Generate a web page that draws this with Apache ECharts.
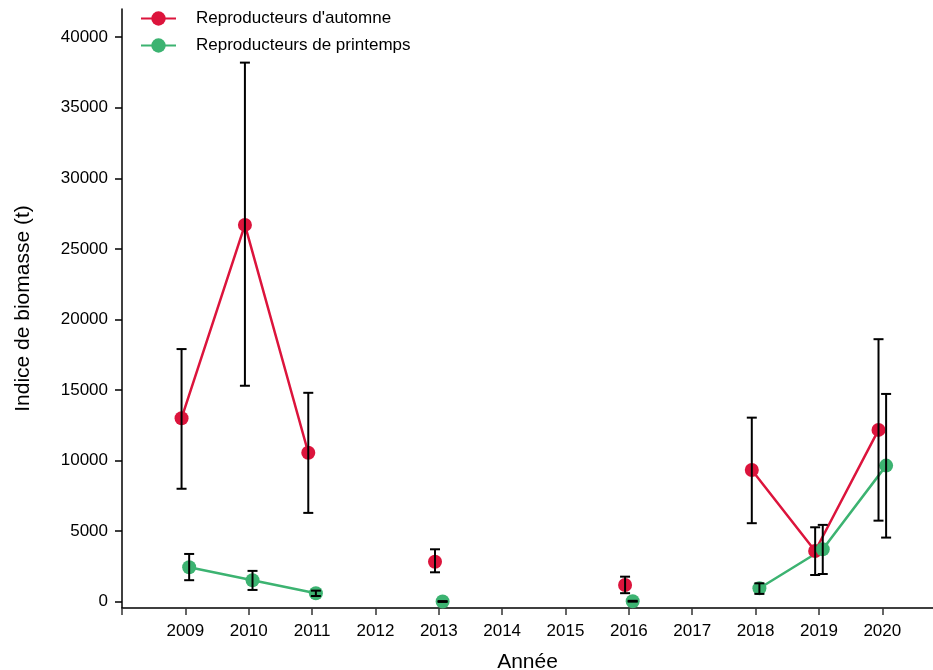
<!DOCTYPE html>
<html>
<head>
<meta charset="utf-8">
<script src="https://cdn.jsdelivr.net/npm/echarts@6/dist/echarts.min.js"></script>
<style>
  html, body { margin: 0; padding: 0; background: #ffffff; }
  #chart { width: 933px; height: 670px; }
</style>
</head>
<body>
<div id="chart"></div>
<script>
// Survey years and biomass index (t) with interval bounds; null = no survey
const years = [2009, 2010, 2011, 2012, 2013, 2014, 2015, 2016, 2017, 2018, 2019, 2020];

const autumnValues = [13000, 26700, 10550, null, 2830, null, null, 1180, null, 9330, 3590, 12170];
const autumnLow    = [8000, 15300, 6290, null, 2080, null, null, 600, null, 5560, 1890, 5740];
const autumnHigh   = [17900, 38200, 14800, null, 3710, null, null, 1770, null, 13040, 5270, 18600];

const springValues = [2440, 1520, 600, null, 10, null, null, 30, null, 950, 3710, 9640];
const springLow    = [1520, 830, 400, null, -20, null, null, 0, null, 550, 1960, 4540];
const springHigh   = [3380, 2180, 780, null, 40, null, null, 60, null, 1300, 5440, 14720];

const yTicks = [0, 5000, 10000, 15000, 20000, 25000, 30000, 35000, 40000];
const xTicks = [2008, 2009, 2010, 2011, 2012, 2013, 2014, 2015, 2016, 2017, 2018, 2019, 2020];
const xLabels = [2009, 2010, 2011, 2012, 2013, 2014, 2015, 2016, 2017, 2018, 2019, 2020];

const seriesNames = ["Reproducteurs d'automne", "Reproducteurs de printemps"];
const red = '#DC143C';
const green = '#3CB371';
const offset = 0.06; // horizontal dodge between the two groups

function linePoints(vals, shift) {
  return years.map((y, i) => [y + shift, vals[i] == null ? '-' : vals[i]]);
}
function barPoints(lo, hi, shift) {
  const out = [];
  years.forEach((y, i) => {
    if (lo[i] != null) out.push([y + shift, lo[i], hi[i]]);
  });
  return out;
}

function renderErrorBar(params, api) {
  const x = api.value(0);
  const lo = api.coord([x, api.value(1)]);
  const hi = api.coord([x, api.value(2)]);
  const half = 5;
  const style = { stroke: '#000', lineWidth: 2 };
  return {
    type: 'group',
    children: [
      { type: 'line', shape: { x1: hi[0], y1: hi[1], x2: lo[0], y2: lo[1] }, style },
      { type: 'line', shape: { x1: hi[0] - half, y1: hi[1], x2: hi[0] + half, y2: hi[1] }, style },
      { type: 'line', shape: { x1: lo[0] - half, y1: lo[1], x2: lo[0] + half, y2: lo[1] }, style }
    ]
  };
}

const font = 'Liberation Sans, Arial, sans-serif';
const plain = v => String(v);
const chart = echarts.init(document.getElementById('chart'));

chart.setOption({
  animation: false,
  backgroundColor: '#ffffff',
  textStyle: { fontFamily: font },
  grid: { left: 122, right: 0, top: 9, bottom: 62, containLabel: false, outerBoundsMode: 'none' },
  legend: {
    orient: 'vertical',
    left: 140,
    top: 10,
    padding: 0,
    itemWidth: 35,
    itemHeight: 18,
    itemGap: 10,
    data: seriesNames,
    textStyle: { fontFamily: font, fontSize: 17, color: '#000', padding: [0, 0, 0, 15] }
  },
  xAxis: {
    type: 'value',
    min: 2008,
    max: 2020.8,
    name: 'Année',
    nameLocation: 'middle',
    nameGap: 44,
    nameTextStyle: { fontFamily: font, fontSize: 21, color: '#000' },
    axisLine: { show: true, onZero: false, lineStyle: { color: '#000', width: 1.5 } },
    axisTick: { show: true, length: 7, customValues: xTicks, lineStyle: { color: '#333', width: 1.5 } },
    axisLabel: { customValues: xLabels, formatter: plain, margin: 15, fontSize: 17, color: '#000', fontFamily: font },
    splitLine: { show: false }
  },
  yAxis: {
    type: 'value',
    min: -450,
    max: 42000,
    name: 'Indice de biomasse (t)',
    nameLocation: 'middle',
    nameGap: 88,
    nameTextStyle: { fontFamily: font, fontSize: 21, color: '#000' },
    axisLine: { show: true, onZero: false, lineStyle: { color: '#000', width: 1.5 } },
    axisTick: { show: true, length: 7, customValues: yTicks, lineStyle: { color: '#000', width: 1.5 } },
    axisLabel: { customValues: yTicks, formatter: plain, margin: 14, fontSize: 17, color: '#000', fontFamily: font },
    splitLine: { show: false }
  },
  series: [
    {
      name: seriesNames[0],
      type: 'line',
      data: linePoints(autumnValues, -offset),
      connectNulls: false,
      symbol: 'circle',
      symbolSize: 14,
      itemStyle: { color: red },
      lineStyle: { color: red, width: 2.5 },
      z: 2
    },
    {
      name: seriesNames[1],
      type: 'line',
      data: linePoints(springValues, offset),
      connectNulls: false,
      symbol: 'circle',
      symbolSize: 14,
      itemStyle: { color: green },
      lineStyle: { color: green, width: 2.5 },
      z: 2
    },
    {
      type: 'custom',
      renderItem: renderErrorBar,
      data: barPoints(autumnLow, autumnHigh, -offset),
      encode: { x: 0, y: [1, 2] },
      z: 5
    },
    {
      type: 'custom',
      renderItem: renderErrorBar,
      data: barPoints(springLow, springHigh, offset),
      encode: { x: 0, y: [1, 2] },
      z: 5
    }
  ]
});
</script>
</body>
</html>
